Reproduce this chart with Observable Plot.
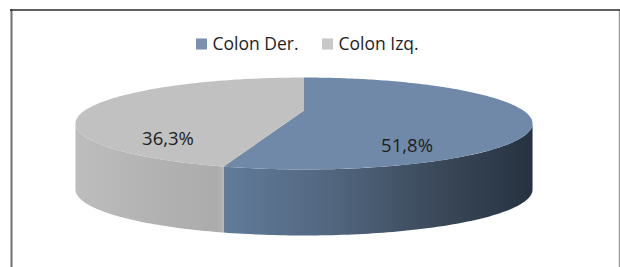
<!DOCTYPE html>
<html>
<head>
<meta charset="utf-8">
<script src="https://cdn.jsdelivr.net/npm/d3@7"></script>
<script src="https://cdn.jsdelivr.net/npm/@observablehq/plot@0.6"></script>
<style>
  html, body { margin: 0; padding: 0; background: #fff; }
  #chart svg { display: block; }
</style>
</head>
<body>
<div id="chart"></div>
<script>
// ---- data ----
const categories = ["Colon Der.", "Colon Izq."];
const values = [51.8, 36.3];            // printed data labels (%)
const sliceShare = [54.3, 45.7];        // share of the circle each slice covers, as drawn

// ---- styles ----
const topColors = ["#7189a8", "#c1c1c1"];
const swatchColors = ["#7a90ad", "#c8c8c8"];
const sideFills = ["url(#sideDer)", "url(#sideIzq)"];

// ---- layout ----
const W = 620, H = 267;
const pie = { cx: 303.5, apexY: 110, a: 219.2, b: 42.3, s: 0.283, depth: 66 };
const labelLayout = { r: 0.55, dz: 32, dx: -19 };
const legend = { y: 44, x: [196, 322], box: 11, gap: 5 };
const font = "'Open Sans', 'Noto Sans', sans-serif";

function proj(theta, r, dz) {
  const u = r * Math.sin(theta), w = r * Math.cos(theta);
  const k = 1 + pie.s * w;
  return [pie.cx + pie.a * u / k, pie.apexY - pie.b * w / k + dz];
}
function arc(t0, t1, dz) {
  const n = Math.max(2, Math.ceil((t1 - t0) / (Math.PI / 180)));
  return d3.range(n + 1).map(i => proj(t0 + (t1 - t0) * i / n, 1, dz));
}

const total = d3.sum(sliceShare);
let acc = 0;
const slices = categories.map((c, i) => {
  const a0 = acc / total * 2 * Math.PI;
  acc += sliceShare[i];
  const a1 = acc / total * 2 * Math.PI;
  return { c, i, a0, a1 };
});

const thL = Math.acos(-pie.s);            // visible side between silhouette points
const thR = 2 * Math.PI - thL;

const marks = [];
for (const sl of slices) {
  const lo = Math.max(sl.a0, thL), hi = Math.min(sl.a1, thR);
  if (hi > lo) {
    const pts = [...arc(lo, hi, 0), ...arc(lo, hi, pie.depth).reverse()];
    marks.push(Plot.line(pts, { x: d => d[0], y: d => d[1], fill: sideFills[sl.i], stroke: "none", curve: "linear" }));
  }
}
for (const sl of slices) {
  const pts = [proj(0, 0, 0), ...arc(sl.a0, sl.a1, 0)];
  marks.push(Plot.line(pts, { x: d => d[0], y: d => d[1], fill: topColors[sl.i], stroke: "none", curve: "linear" }));
}

// data labels at the slice's mid angle
const labelData = slices.map(sl => {
  const [x, y] = proj((sl.a0 + sl.a1) / 2, labelLayout.r, labelLayout.dz);
  return { x, y, text: values[sl.i].toFixed(1).replace(".", ",") + "%" };
});
marks.push(Plot.text(labelData, { x: "x", y: "y", dx: labelLayout.dx, text: "text", fontSize: 18.5, fill: "#1e1e1e", fontFamily: font }));

// legend
const legendData = categories.map((c, i) => ({ c, i, x: legend.x[i] }));
marks.push(Plot.rect(legendData, {
  x1: d => d.x, x2: d => d.x + legend.box,
  y1: legend.y - legend.box / 2, y2: legend.y + legend.box / 2,
  fill: d => swatchColors[d.i]
}));
marks.push(Plot.text(legendData, {
  x: d => d.x + legend.box + legend.gap, y: legend.y, text: "c",
  textAnchor: "start", fontSize: 17.5, fill: "#1e1e1e", fontFamily: font
}));

// frame
marks.push(Plot.ruleX([11], { y1: 9, y2: H, stroke: "#6f6f6f", strokeWidth: 2 }));
marks.push(Plot.ruleX([619], { y1: 9, y2: H, stroke: "#9a9a9a", strokeWidth: 1.5 }));
marks.push(Plot.ruleY([9.5], { x1: 10, x2: 620, stroke: "#2b2b2b", strokeWidth: 1.5 }));

const svg = Plot.plot({
  width: W, height: H,
  margin: 0,
  x: { type: "linear", domain: [0, W], range: [0, W], axis: null },
  y: { type: "linear", domain: [0, H], range: [0, H], axis: null },
  color: { type: "identity" },
  style: { background: "#fff", fontFamily: font },
  marks
});

// gradients for the 3D sides
const defs = d3.select(svg).insert("defs", ":first-child");
const gDer = defs.append("linearGradient").attr("id", "sideDer").attr("x1", 0).attr("x2", 1).attr("y1", 0).attr("y2", 0);
[[0, "#617b9a"], [0.35, "#52667f"], [0.7, "#3a4859"], [1, "#263240"]].forEach(([o, c]) => gDer.append("stop").attr("offset", o).attr("stop-color", c));
const gIzq = defs.append("linearGradient").attr("id", "sideIzq").attr("x1", 0).attr("x2", 1).attr("y1", 0).attr("y2", 0);
[[0, "#bdbdbd"], [0.6, "#b1b1b1"], [0.95, "#acacac"], [1, "#b4b4b4"]].forEach(([o, c]) => gIzq.append("stop").attr("offset", o).attr("stop-color", c));

document.getElementById("chart").appendChild(svg);
</script>
</body>
</html>
